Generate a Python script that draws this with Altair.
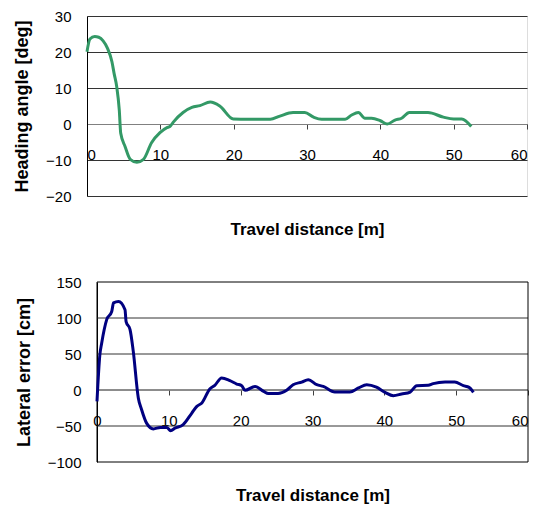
import altair as alt
import pandas as pd

# Top panel: heading angle vs travel distance
heading_dist = [0.0, 0.4, 1.05, 1.6, 2.2, 2.8, 3.4, 3.7, 4.05, 4.4, 4.6, 5.2, 5.9, 6.8, 7.7,
                8.8, 9.95, 10.9, 11.3, 11.8, 13.1, 14.3, 15.4, 16.8, 18.1, 19.95, 22.0,
                25.0, 26.3, 28.1, 29.7, 30.9, 32.0, 35.2, 36.1, 37.0, 37.9, 38.8, 40.0,
                40.95, 42.0, 42.9, 43.95, 46.5, 48.6, 50.0, 51.1, 52.4]
heading_deg = [20.1, 23.6, 24.3, 24.1, 23.1, 21.0, 17.3, 14.0, 10.4, 3.9, -2.6, -6.3, -9.8,
               -10.6, -9.8, -5.2, -2.4, -1.0, -0.7, 0.6, 3.2, 4.6, 5.1, 6.1, 5.0, 1.4, 1.3,
               1.3, 2.2, 3.2, 3.2, 1.9, 1.3, 1.3, 2.5, 3.2, 1.6, 1.6, 0.9,
               0.0, 1.1, 1.6, 3.2, 3.2, 1.9, 1.4, 1.4, -0.7]

# Bottom panel: lateral error vs travel distance
lateral_dist = [0.0, 0.4, 0.65, 1.35, 2.05, 2.3, 3.0, 3.9, 4.05, 4.6, 5.05, 5.75, 6.2, 6.9,
                7.85, 8.8, 9.7, 10.25, 10.85, 12.0, 13.2, 13.9, 14.6, 15.7, 16.4, 17.35,
                18.5, 19.45, 20.15, 20.6, 22.0, 23.2, 23.85, 25.2, 26.4, 27.3, 28.5, 29.4,
                30.6, 31.5, 33.1, 35.2, 36.4, 37.55, 38.9, 40.1, 41.25, 42.4, 43.6, 44.5,
                46.1, 46.8, 48.45, 49.8, 51.0, 51.8, 52.4]
lateral_cm = [-15.7, 49.0, 65.0, 97.7, 109.0, 121.0, 123.0, 111.5, 95.0, 84.0, 53.7, -11.0,
              -27.0, -46.0, -54.0, -52.0, -52.0, -56.5, -53.0, -48.0, -32.0, -22.7, -18.0,
              1.4, 6.5, 16.7, 13.0, 8.3, 6.0, -0.5, 5.0, -1.9, -5.0, -5.0, -0.5, 7.4, 11.0,
              14.3, 7.4, 5.0, -2.8, -2.8, 2.8, 7.4, 4.0, -3.2, -7.9, -5.5, -2.8, 6.0, 6.5,
              8.8, 11.0, 11.0, 6.0, 3.7, -3.2]

x_ticks = [0, 10, 20, 30, 40, 50, 60]
heading_ticks = [-20, -10, 0, 10, 20, 30]
lateral_ticks = [-100, -50, 0, 50, 100, 150]
lateral_grid = [-50, 0, 50, 100]

FONT = "Liberation Sans"
LABEL_SIZE = 15

heading_df = pd.DataFrame({"d": heading_dist, "v": heading_deg})
lateral_df = pd.DataFrame({"d": lateral_dist, "v": lateral_cm})
lateral_grid_df = pd.DataFrame({"v": lateral_grid})
frame_df = pd.DataFrame({"d": [0], "d2": [60], "v": [-100], "v2": [150]})
zero_df = pd.DataFrame({"v": [0]})


def x_axis(**kw):
    return alt.Axis(
        values=x_ticks, offset=-72, grid=False, domainColor="#808080",
        tickColor="#404040", tickSize=5, labelPadding=18, labelFontSize=LABEL_SIZE,
        labelFont=FONT, labelColor="black", labelAngle=0, labelOverlap=False,
        title="Travel distance [m]", titleFont=FONT, titleFontSize=17,
        titleFontWeight="bold", titleColor="black", titlePadding=59, zindex=0, **kw
    )


def y_axis(title, ticks, title_pad, **kw):
    return alt.Axis(
        values=ticks, domainColor="black", ticks=False, labelPadding=16,
        labelFontSize=LABEL_SIZE, labelFont=FONT, labelColor="black", labelOverlap=False,
        title=title, titleFont=FONT, titleFontSize=18, titleFontWeight="bold",
        titleColor="black", titlePadding=title_pad, zindex=0, **kw
    )


top = alt.Chart(heading_df).mark_line(color="#339966", strokeWidth=3, interpolate="monotone").encode(
    x=alt.X("d:Q", scale=alt.Scale(domain=[0, 60], nice=False), axis=x_axis()),
    y=alt.Y("v:Q", scale=alt.Scale(domain=[-20, 30], nice=False),
            axis=y_axis("Heading angle [deg]", heading_ticks, 14,
                        grid=True, gridColor="#333333", gridWidth=1)),
).properties(width=440, height=180)

# bottom panel: its frame starts 10 px to the right of the top one
b_width = 431
b_shift = 10
b_xmin = -b_shift * 60 / b_width
bx = alt.Scale(domain=[b_xmin, 60], nice=False, zero=False)
by = alt.Scale(domain=[-100, 150], nice=False)
b_yaxis = y_axis("Lateral error [cm]", lateral_ticks, 14, grid=False, offset=-b_shift)

b_grid = alt.Chart(lateral_grid_df).mark_rule(color="#333333", strokeWidth=1).encode(
    y=alt.Y("v:Q", scale=by, axis=b_yaxis), x=alt.datum(0), x2=alt.datum(60)
)
b_zero = alt.Chart(zero_df).mark_rule(color="#808080", strokeWidth=1).encode(
    y=alt.Y("v:Q", scale=by, axis=b_yaxis), x=alt.datum(0), x2=alt.datum(60)
)
b_frame = alt.Chart(frame_df).mark_rect(fillOpacity=0, stroke="black", strokeWidth=1).encode(
    x=alt.X("d:Q", scale=bx), x2="d2:Q", y=alt.Y("v:Q", scale=by, axis=b_yaxis), y2="v2:Q"
)
b_line = alt.Chart(lateral_df).mark_line(color="#000080", strokeWidth=3, interpolate="monotone").encode(
    x=alt.X("d:Q", scale=bx, axis=x_axis(domain=False, titleX=b_shift + b_width / 2)),
    y=alt.Y("v:Q", scale=by, axis=b_yaxis),
)

bottom = alt.layer(b_grid, b_zero, b_frame, b_line).properties(
    width=b_width + b_shift, height=180, view=alt.ViewBackground(stroke="transparent")
)

chart = alt.vconcat(top, bottom, spacing=36).properties(
    padding={"left": 5, "top": 0, "right": 5, "bottom": 5}
).configure_view(stroke="black", strokeWidth=1).configure_axis(
    labelOverlap=False
).configure(background="white")

chart.save("out.html", embed_options={"renderer": "svg", "actions": False})
